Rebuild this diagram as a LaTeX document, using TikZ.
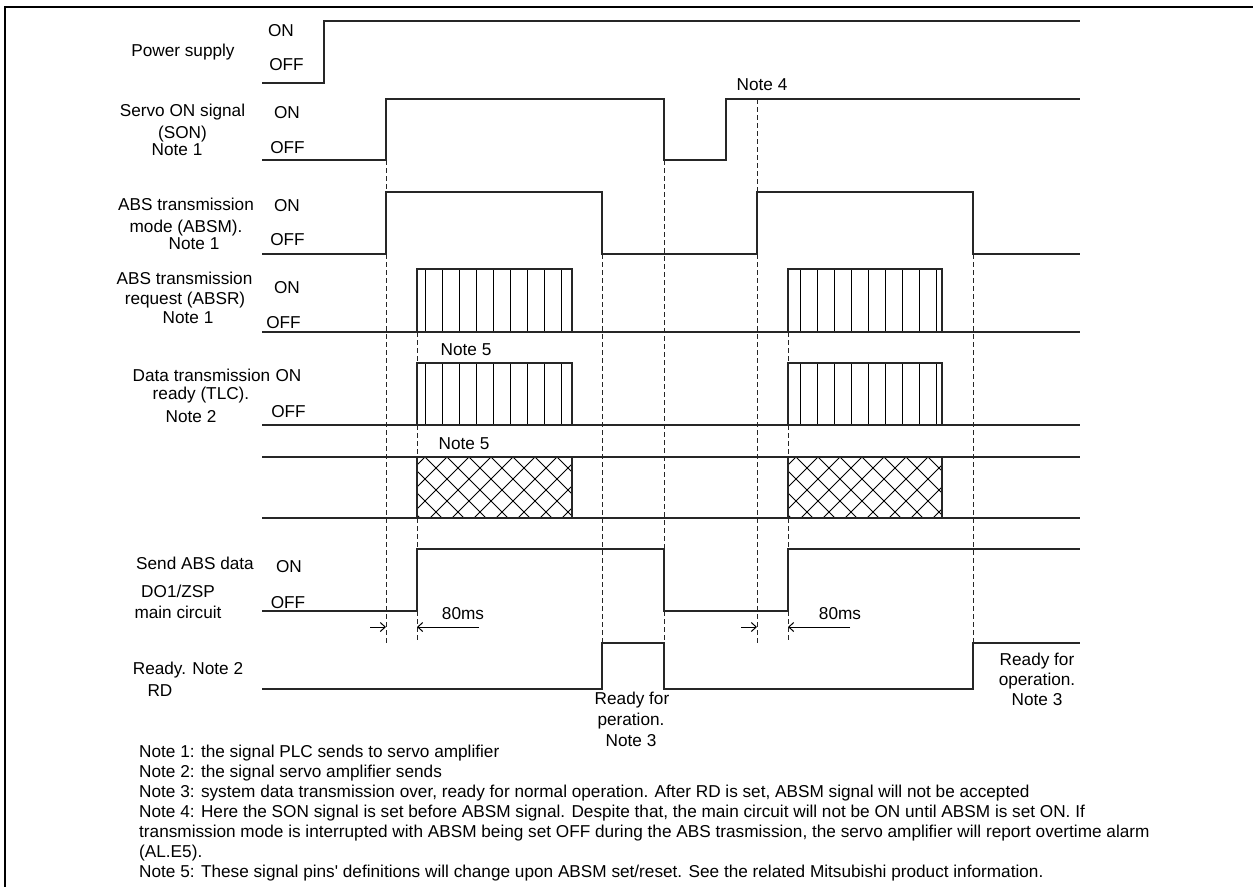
\documentclass[tikz,border=0pt]{standalone}
\usepackage{fontspec}
\setmainfont{Liberation Sans}
\usetikzlibrary{arrows.meta}
\begin{document}
\begin{tikzpicture}[x=1pt,y=-1pt,
  every node/.style={font=\fontsize{17.2pt}{20pt}\selectfont},
  lbl/.style={inner sep=0pt, anchor=base},
  note/.style={inner sep=0pt, anchor=base west},
  sig/.style={line width=1.4pt, black!85, line join=miter},
  guide/.style={line width=1pt, black!85, dash pattern=on 4.5pt off 3.5pt},
  hatch/.style={line width=1pt, black},
  dimarrow/.style={line width=1pt, -{Straight Barb[length=5pt,width=9pt]}}]

\useasboundingbox (0,0) rectangle (1253,887);
\fill[white] (0,0) rectangle (1253,887);
% frame
\draw[line width=2pt] (1253,7) -- (5,7) -- (5,887);

% ---------- row labels ----------
\node[lbl] (psL) at (183,56) {Power supply};
\node[lbl] (psOn) at (281,36) {ON};
\node[lbl] (psOff) at (286.5,70) {OFF};

\node[lbl] (sonA) at (182.5,116) {Servo ON signal};
\node[lbl] (sonB) at (182.5,138) {(SON)};
\node[lbl] (sonC) at (177,155) {Note 1};
\node[lbl] (sonOn) at (287,118) {ON};
\node[lbl] (sonOff) at (287.5,153) {OFF};

\node[lbl] (absmA) at (186,210) {ABS transmission};
\node[lbl] (absmB) at (186,232) {mode (ABSM).};
\node[lbl] (absmC) at (194,249) {Note 1};
\node[lbl] (absmOn) at (287,211) {ON};
\node[lbl] (absmOff) at (287.5,245) {OFF};

\node[lbl] (absrA) at (184.5,284) {ABS transmission};
\node[lbl] (absrB) at (185,304) {request (ABSR)};
\node[lbl] (absrC) at (188,323) {Note 1};
\node[lbl] (absrOn) at (287,293) {ON};
\node[lbl] (absrOff) at (283.5,328) {OFF};

\node[lbl] (tlcA) at (201.5,381) {Data transmission};
\node[lbl] (tlcOn) at (288.5,381) {ON};
\node[lbl] (tlcB) at (201,399) {ready (TLC).};
\node[lbl] (tlcC) at (191,422) {Note 2};
\node[lbl] (tlcOff) at (288.5,417) {OFF};

\node[lbl] (n5a) at (466,355) {Note 5};
\node[lbl] (n5b) at (464,449) {Note 5};
\node[lbl] (n4) at (762,90) {Note 4};

\node[lbl] (sendA) at (195,569) {Send ABS data};
\node[lbl] (sendOn) at (289,572) {ON};
\node[lbl] (sendB) at (178,597) {DO1/ZSP};
\node[lbl] (sendC) at (178,618) {main circuit};
\node[lbl] (sendOff) at (288,608) {OFF};

\node[lbl] (ms1) at (463,619) {80ms};
\node[lbl] (ms2) at (840,619) {80ms};

\node[lbl] (rdA) at (188,674) {Ready. Note 2};
\node[lbl] (rdB) at (160,696) {RD};

\node[lbl] (r1a) at (632,704) {Ready for};
\node[lbl] (r1b) at (631,725) {peration.};
\node[lbl] (r1c) at (631,746) {Note 3};
\node[lbl] (r2a) at (1037,665) {Ready for};
\node[lbl] (r2b) at (1037,685) {operation.};
\node[lbl] (r2c) at (1037,705) {Note 3};

% ---------- notes ----------
\node[note] (nt1) at (139,757) {Note 1: the signal PLC sends to servo amplifier};
\node[note] (nt2) at (139,777) {Note 2: the signal servo amplifier sends};
\node[note] (nt3) at (139,797) {Note 3: system data transmission over, ready for normal operation. After RD is set, ABSM signal will not be accepted};
\node[note] (nt4) at (139,817) {Note 4: Here the SON signal is set before ABSM signal. Despite that, the main circuit will not be ON until ABSM is set ON. If};
\node[note] (nt5) at (139,837) {transmission mode is interrupted with ABSM being set OFF during the ABS trasmission, the servo amplifier will report overtime alarm};
\node[note] (nt6) at (139,857) {(AL.E5).};
\node[note] (nt7) at (139,877) {Note 5: These signal pins\textquotesingle\ definitions will change upon ABSM set/reset. See the related Mitsubishi product information.};

% ---------- hatching ----------
\foreach \k in {0,...,8} {
  \draw[hatch] ({425+17*\k},269) -- ({425+17*\k},332);
  \draw[hatch] ({425+17*\k},363) -- ({425+17*\k},425);
  \draw[hatch] ({800+17*\k},269) -- ({800+17*\k},332);
  \draw[hatch] ({800+17*\k},363) -- ({800+17*\k},425);
}
\begin{scope}
  \clip (417,457) rectangle (572,518);
  \foreach \k in {-4,...,10} {
    \draw[hatch] ({425+22*\k},457) -- ++(70,70);
    \draw[hatch] ({425+22*\k},457) -- ++(-70,70);
  }
\end{scope}
\begin{scope}
  \clip (788,457) rectangle (942,518);
  \foreach \k in {-4,...,10} {
    \draw[hatch] ({796+22*\k},457) -- ++(70,70);
    \draw[hatch] ({796+22*\k},457) -- ++(-70,70);
  }
\end{scope}

% ---------- dashed guides ----------
\draw[guide] (386,160) -- (386,192);
\draw[guide] (386,254) -- (386,643);
\foreach \x in {417,788} {
  \draw[guide] (\x,332) -- (\x,363);
  \draw[guide] (\x,425) -- (\x,457);
  \draw[guide] (\x,518) -- (\x,549);
  \draw[guide] (\x,611) -- (\x,643);
}
\draw[guide] (602,254) -- (602,643);
\draw[guide] (664,160) -- (664,549);
\draw[guide] (664,611) -- (664,643);
\draw[guide] (757,99) -- (757,192);
\draw[guide] (757,254) -- (757,643);
\draw[guide] (973,254) -- (973,643);

% ---------- waveforms ----------
\draw[sig] (262,83) -- (324,83) -- (324,21) -- (1080,21);
\draw[sig] (262,160) -- (386,160) -- (386,99) -- (664,99) -- (664,160) -- (726,160) -- (726,99) -- (1080,99);
\draw[sig] (262,254) -- (386,254) -- (386,192) -- (602,192) -- (602,254) -- (757,254) -- (757,192) -- (973,192) -- (973,254) -- (1080,254);
\draw[sig] (262,332) -- (1080,332);
\draw[sig] (417,332) -- (417,269) -- (572,269) -- (572,332);
\draw[sig] (788,332) -- (788,269) -- (942,269) -- (942,332);
\draw[sig] (262,425) -- (1080,425);
\draw[sig] (417,425) -- (417,363) -- (572,363) -- (572,425);
\draw[sig] (788,425) -- (788,363) -- (942,363) -- (942,425);
\draw[sig] (262,457) -- (1080,457);
\draw[sig] (262,518) -- (1080,518);
\draw[sig] (417,457) -- (417,518);
\draw[sig] (572,457) -- (572,518);
\draw[sig] (788,457) -- (788,518);
\draw[sig] (942,457) -- (942,518);
\draw[sig] (262,611) -- (417,611) -- (417,549) -- (664,549) -- (664,611) -- (788,611) -- (788,549) -- (1080,549);
\draw[sig] (262,689) -- (602,689) -- (602,643) -- (664,643) -- (664,689) -- (973,689) -- (973,643) -- (1080,643);

% ---------- 80ms arrows ----------
\coordinate (a1s) at (370,627);
\coordinate (a1e) at (386,627);
\coordinate (a2s) at (479,627);
\coordinate (a2e) at (417,627);
\coordinate (b1s) at (741,627);
\coordinate (b1e) at (757,627);
\coordinate (b2s) at (850,627);
\coordinate (b2e) at (788,627);
\draw[dimarrow] (a1s) -- (a1e);
\draw[dimarrow] (a2s) -- (a2e);
\draw[dimarrow] (b1s) -- (b1e);
\draw[dimarrow] (b2s) -- (b2e);
\end{tikzpicture}
\end{document}
